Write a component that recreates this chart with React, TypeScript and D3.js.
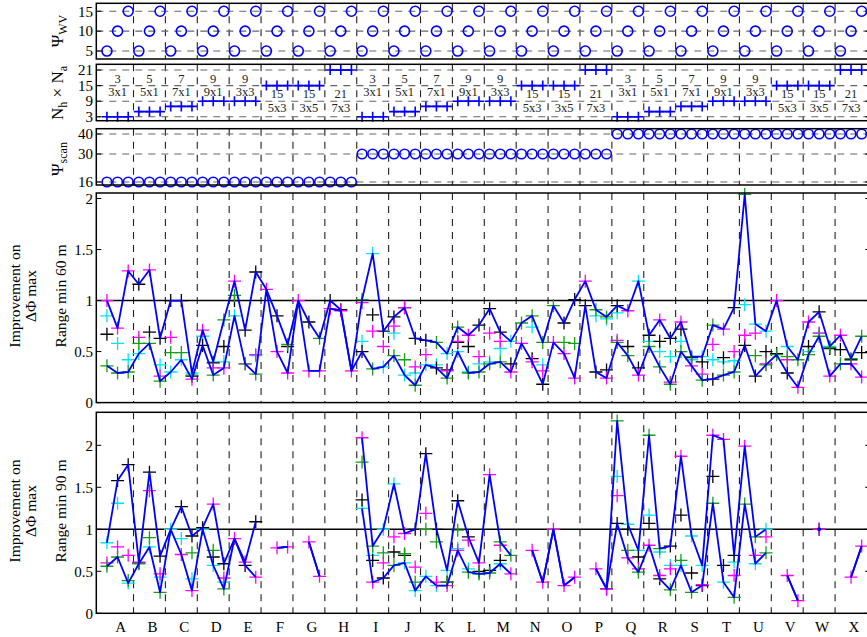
import React from "react";
import * as d3 from "d3";

type V = number | null;
const _ = null;

// Configuration axes
const groupNames = "ABCDEFGHIJKLMNOPQRSTUVWX".split("");
const psiWVCycle = [5, 10, 15];
const arraySizes = [3, 5, 7, 9, 9, 15, 15, 21];
const arrayShapes = ["3x1", "5x1", "7x1", "9x1", "3x3", "5x3", "3x5", "7x3"];
const psiScanLevels = [16, 30, 40];

const wvTicks = [5, 10, 15];
const sizeTicks = [3, 9, 15, 21];
const scanTicks = [16, 30, 40];
const improvementTicks = [0, 0.5, 1, 1.5, 2];
const improvementTickLabels = ["0", "0.5", "1", "1.5", "2"];

// Improvement on ΔΦ max, range min 60 m (groups of three: ΨWV = 5, 10, 15)
const r60Black: V[] = [
  0.67, _, _, 1.16, 0.69, 0.63, 1.0, 1.0, 0.26, 0.56, 0.39, 0.55, 1.0, 0.71, 1.28, _, 0.85, 0.55,
  _, 0.79, _, 1.0, 0.91, _, 0.5, 0.86, 0.7, 0.84, 0.93, 0.63, 0.61, 0.34, 0.32, 0.59, 0.55, 0.76,
  0.92, 0.69, 0.38, _, 0.43, 0.18, _, 0.78, 1.01, 0.95, 0.3, 0.32, 0.95, 0.55, 0.34, 0.66, 0.6, 0.63,
  0.72, 0.44, 0.4, 0.23, 0.44, 0.93, 0.56, 0.26, 0.5, 0.48, 0.29, _, 0.55, 0.89, 0.53, 0.52, 0.42, 0.49,
];
const r60Cyan: V[] = [
  0.85, 0.58, 0.42, 0.48, _, 0.37, 0.3, 0.42, 0.29, 0.65, 0.4, 0.4, 0.85, _, 0.46, _, _, _,
  _, _, _, _, _, _, 0.6, 1.46, 0.35, 0.68, 0.27, 0.29, 0.37, 0.37, 0.48, 0.5, 0.3, 0.38,
  0.4, 0.53, 0.6, _, 0.74, 0.37, _, _, _, _, 0.85, 0.82, 0.88, _, 1.19, 0.6, 0.5, 0.45,
  0.6, 0.42, 0.45, 0.42, 0.4, 0.41, 0.96, 0.77, 0.7, _, 0.55, _, 0.5, 0.68, 0.55, _, _, _,
];
const r60Magenta: V[] = [
  1.0, 0.73, 1.29, 0.64, 1.3, 0.26, 0.64, _, 0.23, 0.71, 0.34, 0.34, 1.19, 0.38, 0.47, 1.11, 0.5, 0.29,
  1.0, 0.31, 0.31, 0.92, 0.9, 0.31, 0.98, 0.7, 0.55, 0.75, 0.93, 0.35, 0.47, _, 0.31, 0.6, 0.66, 0.45,
  0.68, 0.6, 0.3, 0.58, 0.4, 0.31, 0.59, 0.48, 0.24, 1.19, _, 0.24, 0.61, 0.9, 0.27, _, 0.81, 0.2,
  0.79, 0.36, 0.28, 0.57, 0.72, 0.5, 0.66, 0.68, 0.38, 1.0, 0.42, 0.15, 0.79, 0.68, 0.26, 0.66, 0.38, 0.25,
];
const r60Green: V[] = [
  0.36, 0.29, 0.3, 0.58, 0.58, 0.21, 0.49, 0.49, 0.27, _, 0.27, 0.81, 1.05, 0.38, 0.28, _, _, 0.57,
  _, _, 0.63, _, _, _, 1.01, 0.33, _, 0.46, 0.42, 0.17, _, 0.59, 0.24, 0.74, 0.29, 0.3,
  0.38, 0.4, _, 0.78, 0.85, 0.59, 0.95, 0.59, 0.58, _, 0.91, 0.84, 0.59, 0.46, _, 0.55, 0.35, 0.18,
  0.5, 0.45, 0.22, 0.76, 0.27, 0.3, 2.04, 0.46, 0.37, 0.47, 0.45, 0.42, 0.47, 0.65, 0.54, 0.38, 0.43, 0.65,
];

// Improvement on ΔΦ max, range min 90 m
const r90Black: V[] = [
  _, 1.58, 1.77, 0.6, 1.68, 0.68, _, 1.27, 0.92, 1.02, 0.67, 0.59, _, 0.57, 1.09, _, _, _,
  _, _, _, _, _, _, 1.35, 0.63, 0.42, 0.73, 0.69, 1.0, 1.9, 1.0, 0.37, 1.34, 0.91, 0.5,
  0.51, 0.63, _, _, _, _, _, _, _, _, _, 0.29, 1.07, 1.0, 0.67, 1.07, 0.41, 0.8,
  1.17, 0.48, 0.33, 1.63, 0.57, 0.69, _, _, _, _, _, _, _, 1.0, _, _, _, _,
];
const r90Cyan: V[] = [
  0.84, 1.31, 0.36, 0.6, 0.79, 0.43, 1.0, 0.89, 0.41, 1.0, 0.57, 0.37, _, _, _, _, _, _,
  _, _, _, _, _, _, 1.25, 0.69, 1.0, 1.54, 0.6, 0.27, 0.44, 0.33, 0.51, 0.77, 0.53, 0.47,
  0.51, 0.59, _, _, _, _, _, _, _, _, _, _, 1.63, 1.06, 0.75, 1.17, 0.73, 0.57,
  0.57, 0.92, 0.57, _, 0.37, 0.61, _, 0.59, 1.0, _, _, _, _, _, _, _, _, _,
];
const r90Magenta: V[] = [
  0.6, 0.79, 0.69, 0.61, 1.46, 0.47, _, 0.7, 0.27, _, 1.3, 0.42, 0.89, 0.61, 0.43, _, 0.78, 0.79,
  _, 0.85, 0.44, _, _, _, 2.09, 0.37, 0.6, 0.91, 0.95, 0.55, 1.19, 0.37, 0.33, 0.75, 0.87, 0.6,
  1.65, 0.81, 0.47, _, 0.75, 0.37, 1.0, 0.33, 0.43, _, 0.53, 0.29, 1.4, 0.66, 0.53, 0.81, 0.45, 0.53,
  1.87, _, 0.34, 2.12, 2.07, 0.45, 1.99, 0.69, 0.91, _, 0.45, 0.15, _, 1.0, _, _, 0.43, 0.8,
];
const r90Green: V[] = [
  0.56, 0.67, 0.39, 0.59, 0.9, 0.25, _, _, 0.72, _, 0.75, 0.29, _, _, _, _, _, _,
  _, _, _, _, _, _, 1.8, 0.8, 0.72, 0.57, 0.71, 0.37, 1.0, 0.85, 0.37, 0.99, 0.49, 0.47,
  0.48, 0.85, 0.69, _, _, _, _, _, _, _, _, _, 2.29, 0.75, 0.49, 2.12, 0.77, 0.28,
  0.63, 0.25, _, 1.31, _, 0.19, 1.3, 0.91, 0.72, _, _, _, _, _, _, _, _, _,
];

const FONT = '"Liberation Serif", "Times New Roman", Times, "DejaVu Serif", serif';
const BLUE = "#0000ff";
const seriesColors = ["#00e5ee", "#ff00ff", "#159f15", "#000000"];

const plusPath = (cx: number, cy: number, s: number) =>
  `M${cx - s},${cy}H${cx + s}M${cx},${cy - s}V${cy + s}`;

type PanelDef = { top: number; bottom: number; domain: [number, number] };
const wvPanel: PanelDef = { top: 3.3, bottom: 59, domain: [3, 17] };
const sizePanel: PanelDef = { top: 64.3, bottom: 120.7, domain: [1.5, 23.2] };
const scanPanel: PanelDef = { top: 128.7, bottom: 185, domain: [14.5, 42.65] };
const r60Panel: PanelDef = { top: 193, bottom: 402.6, domain: [0, 2.054] };
const r90Panel: PanelDef = { top: 412.3, bottom: 613.3, domain: [0, 2.393] };

const textStyle: React.CSSProperties = { fontFamily: FONT };

export default function App() {
  const nPts = groupNames.length * 3;
  const pts = d3.range(nPts);
  const x = d3.scaleLinear().domain([0, 72.8]).range([96.3, 96.3 + 72.8 * 10.63]);
  const xAt = (i: number) => x(i + 1);
  const left = x(0);
  const right = x(72.8);
  const separators = d3.range(1, groupNames.length).map((k) => 3 * k + 0.5);
  const yOf = (p: PanelDef) => d3.scaleLinear().domain(p.domain).range([p.bottom, p.top]);

  const frame = (p: PanelDef, key: string) => (
    <rect key={key} x={left} y={p.top} width={right - left} height={p.bottom - p.top}
      fill="none" stroke="#000" strokeWidth={1.5} />
  );

  const vGrid = (p: PanelDef, key: string) => (
    <g key={key}>
      {separators.map((s) => (
        <line key={s} x1={x(s)} x2={x(s)} y1={p.top} y2={p.bottom}
          stroke="#222" strokeWidth={1.1} strokeDasharray="7,6" />
      ))}
    </g>
  );

  const yAxis = (p: PanelDef, ticks: number[], labels: string[], key: string, hGrid: boolean) => {
    const y = yOf(p);
    return (
      <g key={key}>
        {hGrid && ticks.map((t) => (
          <line key={"g" + t} x1={left} x2={right} y1={y(t)} y2={y(t)}
            stroke="#666" strokeWidth={1.1} strokeDasharray="7,6" />
        ))}
        {ticks.map((t) => (
          <g key={"t" + t}>
            <line x1={left} x2={left + 5} y1={y(t)} y2={y(t)} stroke="#000" strokeWidth={1} />
            <line x1={right - 5} x2={right} y1={y(t)} y2={y(t)} stroke="#000" strokeWidth={1} />
          </g>
        ))}
        {ticks.map((t, k) => (
          <text key={"l" + t} x={93} y={y(t)} dy="0.35em" textAnchor="end"
            style={textStyle} fontSize={15}>{labels[k]}</text>
        ))}
      </g>
    );
  };

  // ΨWV, Nh×Na and Ψscan of each configuration
  const wvValues = pts.map((i) => psiWVCycle[i % 3]);
  const sizeValues = pts.map((i) => arraySizes[Math.floor(i / 3) % 8]);
  const scanValues = pts.map((i) => psiScanLevels[Math.floor(i / 24)]);

  const improvementPanel = (p: PanelDef, series: V[][], key: string) => {
    const y = yOf(p);
    const env = pts.map((i) => {
      const vals = series.map((s) => s[i]).filter((v) => v != null) as number[];
      return vals.length ? { hi: d3.max(vals) as number, lo: d3.min(vals) as number } : null;
    });
    const line = d3.line<number>()
      .defined((i) => env[i] != null)
      .x((i) => xAt(i));
    const hiPath = line.y((i) => y(env[i]!.hi))(pts) || "";
    const loPath = line.y((i) => y(env[i]!.lo))(pts) || "";
    const isolated = pts.filter((i) => env[i] && !env[i - 1] && !env[i + 1]);
    const drawOrder = [1, 0, 2, 3];
    const colorOf = [3, 0, 1, 2]; // black, cyan, magenta, green
    return (
      <g key={key}>
        {vGrid(p, key + "vg")}
        <line x1={left} x2={right} y1={y(1)} y2={y(1)} stroke="#000" strokeWidth={1.5} />
        {drawOrder.map((si) => (
          <g key={si} stroke={seriesColors[colorOf[si]]} strokeWidth={1.3} fill="none">
            {pts.filter((i) => series[si][i] != null).map((i) => (
              <path key={i} d={plusPath(xAt(i), y(series[si][i] as number), 6.5)} />
            ))}
          </g>
        ))}
        <path d={hiPath} fill="none" stroke={BLUE} strokeWidth={1.8} strokeLinejoin="round" />
        <path d={loPath} fill="none" stroke={BLUE} strokeWidth={1.8} strokeLinejoin="round" />
        {isolated.map((i) => (
          <circle key={"d" + i} cx={xAt(i)} cy={y(env[i]!.hi)} r={2} fill={BLUE} />
        ))}
        {yAxis(p, improvementTicks, improvementTickLabels, key + "ax", false)}
        {frame(p, key + "fr")}
      </g>
    );
  };

  const yWV = yOf(wvPanel);
  const ySize = yOf(sizePanel);
  const yScan = yOf(scanPanel);

  const rotLabel = (cx: number, cy: number, content: React.ReactNode, key: string, size = 15) => (
    <text key={key} transform={`translate(${cx},${cy}) rotate(-90)`} textAnchor="middle"
      style={textStyle} fontSize={size}>{content}</text>
  );

  return (
    <div style={{ position: "absolute", left: 0, top: 0 }}>
      <svg width={867} height={637} style={{ display: "block", background: "#fff", fontFamily: FONT }}>
        <rect width={867} height={637} fill="#fff" />

        {/* ΨWV panel */}
        {vGrid(wvPanel, "wvg")}
        {yAxis(wvPanel, wvTicks, wvTicks.map(String), "wvax", true)}
        <g stroke={BLUE} strokeWidth={1.6} fill="none">
          {pts.map((i) => <circle key={i} cx={xAt(i)} cy={yWV(wvValues[i])} r={5} />)}
        </g>
        {frame(wvPanel, "wvf")}

        {/* Nh × Na panel */}
        {vGrid(sizePanel, "szg")}
        {yAxis(sizePanel, sizeTicks, sizeTicks.map(String), "szax", true)}
        <g stroke={BLUE} strokeWidth={1.6} fill="none">
          {groupNames.map((_g, g) => {
            const idx = [3 * g, 3 * g + 1, 3 * g + 2];
            const yv = ySize(sizeValues[3 * g]);
            return (
              <g key={g}>
                <path d={`M${xAt(idx[0])},${yv}H${xAt(idx[2])}`} />
                {idx.map((i) => <path key={i} d={plusPath(xAt(i), yv, 5)} />)}
              </g>
            );
          })}
        </g>
        <g style={textStyle} fontSize={12.5} textAnchor="middle" fill="#222">
          {groupNames.map((_g, g) => {
            const c = g % 8;
            const cx = xAt(3 * g + 1);
            const bar = arraySizes[c] <= 9 ? ySize(15) : ySize(9);
            return (
              <g key={g}>
                <text x={cx} y={bar - 3}>{arraySizes[c]}</text>
                <text x={cx} y={bar + 10.5}>{arrayShapes[c]}</text>
              </g>
            );
          })}
        </g>
        {frame(sizePanel, "szf")}

        {/* Ψscan panel */}
        {vGrid(scanPanel, "scg")}
        {yAxis(scanPanel, scanTicks, scanTicks.map(String), "scax", true)}
        <g stroke={BLUE} strokeWidth={1.6} fill="none">
          {pts.map((i) => <circle key={i} cx={xAt(i)} cy={yScan(scanValues[i])} r={4.8} />)}
        </g>
        {frame(scanPanel, "scf")}

        {/* Improvement panels */}
        {improvementPanel(r60Panel, [r60Black, r60Cyan, r60Magenta, r60Green], "r60")}
        {improvementPanel(r90Panel, [r90Black, r90Cyan, r90Magenta, r90Green], "r90")}

        {/* Group letters */}
        <g style={textStyle} fontSize={15} textAnchor="middle">
          {groupNames.map((n, g) => (
            <text key={n} x={xAt(3 * g + 1) + 3} y={632}>{n}</text>
          ))}
        </g>

        {/* Axis titles */}
        {rotLabel(63, 31, <>
          <tspan fontSize={17}>Ψ</tspan>
          <tspan fontSize={12} dy={4}>WV</tspan>
        </>, "lwv")}
        {rotLabel(63, 93, <>
          <tspan fontSize={17}>N</tspan>
          <tspan fontSize={12} dy={4}>h</tspan>
          <tspan fontSize={17} dy={-4}> × N</tspan>
          <tspan fontSize={12} dy={4}>a</tspan>
        </>, "lsz")}
        {rotLabel(63, 159, <>
          <tspan fontSize={17}>Ψ</tspan>
          <tspan fontSize={12} dy={4}>scan</tspan>
        </>, "lsc")}

        {rotLabel(20, 296, "Improvement on", "i60a", 15.5)}
        {rotLabel(36, 296, "ΔΦ max", "i60b", 15.5)}
        {rotLabel(66, 296, "Range min 60 m", "r60l", 15.5)}
        {rotLabel(20, 511, "Improvement on", "i90a", 15.5)}
        {rotLabel(36, 511, "ΔΦ max", "i90b", 15.5)}
        {rotLabel(66, 511, "Range min 90 m", "r90l", 15.5)}
      </svg>
    </div>
  );
}
